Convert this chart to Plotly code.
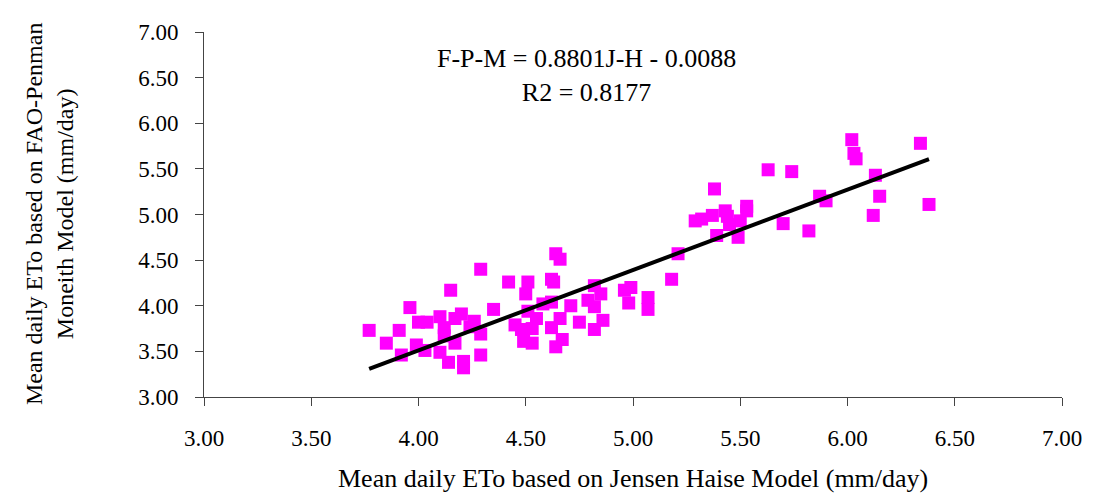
import numpy as np
import plotly.graph_objects as go

# Jensen-Haise ETo (x) vs FAO-Penman-Monteith ETo (y), mm/day
jh = [3.77, 3.85, 3.91, 3.92, 3.96, 3.99, 4.00, 4.04, 4.03, 4.10, 4.10, 4.15, 4.12, 4.12, 4.14,
      4.29, 4.42, 4.51, 4.50, 4.35, 4.20, 4.17, 4.26, 4.24, 4.29, 4.17, 4.29, 4.21, 4.21,
      4.45, 4.51, 4.55, 4.53, 4.48, 4.49, 4.53, 4.58,
      4.64, 4.66, 4.62, 4.63, 4.62, 4.71, 4.82, 4.85, 4.79, 4.82, 4.96, 4.99, 4.98,
      4.66, 4.62, 4.75, 4.82, 4.86, 4.67, 4.64, 5.07, 5.07, 5.18, 5.21, 5.39,
      6.02, 6.03, 6.04, 5.63, 5.74, 6.13, 5.38, 6.15, 5.87, 5.90, 5.53, 5.53, 6.12,
      5.43, 5.44, 5.37, 5.32, 5.29, 5.50, 5.45, 5.49, 5.70, 5.82, 6.34, 6.38]
fpm = [3.73, 3.59, 3.73, 3.46, 3.98, 3.57, 3.82, 3.82, 3.51, 3.88, 3.49, 4.17, 3.76, 3.67, 3.38,
       4.40, 4.26, 4.26, 4.13, 3.96, 3.91, 3.86, 3.83, 3.77, 3.69, 3.59, 3.46, 3.39, 3.32,
       3.79, 3.94, 3.86, 3.75, 3.74, 3.61, 3.59, 4.02,
       4.57, 4.51, 4.29, 4.26, 4.04, 4.00, 4.22, 4.13, 4.06, 3.99, 4.17, 4.20, 4.03,
       3.86, 3.76, 3.82, 3.74, 3.84, 3.63, 3.55, 4.09, 3.96, 4.29, 4.57, 4.77,
       5.82, 5.67, 5.61, 5.49, 5.47, 5.43, 5.28, 5.20, 5.20, 5.15, 5.09, 5.04, 4.99,
       5.04, 4.98, 4.99, 4.95, 4.93, 4.93, 4.89, 4.75, 4.90, 4.82, 5.78, 5.11]

slope = 0.8801
intercept = -0.0088
r2 = 0.8177

tick_vals = [3.0, 3.5, 4.0, 4.5, 5.0, 5.5, 6.0, 6.5, 7.0]
tick_text = ["3.00", "3.50", "4.00", "4.50", "5.00", "5.50", "6.00", "6.50", "7.00"]

FONT = "Liberation Serif"

fig = go.Figure()
fig.add_trace(go.Scatter(
    x=jh, y=fpm, mode="markers",
    marker=dict(symbol="square", size=13, color="#FF00FF", line=dict(width=0)),
    showlegend=False, hoverinfo="x+y"))

xl = np.array([min(jh), max(jh)])
fig.add_trace(go.Scatter(
    x=xl, y=slope * xl + intercept, mode="lines",
    line=dict(color="black", width=4), showlegend=False))

axis_common = dict(
    range=[3, 7], tickvals=tick_vals, ticktext=tick_text,
    showgrid=False, zeroline=False, showline=True, linecolor="#444", linewidth=1,
    ticks="outside", ticklen=8, tickcolor="#444",
    tickfont=dict(family=FONT, size=23, color="black"))

fig.update_xaxes(**axis_common, ticklabelstandoff=12)
fig.update_yaxes(**axis_common, ticklabelstandoff=12)

fig.add_annotation(
    xref="paper", yref="paper", x=0.5, y=-0.222, xanchor="center", yanchor="middle",
    text="Mean daily ETo based on Jensen Haise Model (mm/day)", showarrow=False,
    font=dict(family=FONT, size=26, color="black"))
fig.add_annotation(
    xref="paper", yref="paper", x=-0.18, y=0.5, xanchor="center", yanchor="middle",
    text="Mean daily ETo based on FAO-Penman<br>Moneith Model (mm/day)", showarrow=False,
    textangle=-90, font=dict(family=FONT, size=24, color="black"))
fig.add_annotation(
    xref="paper", yref="paper", x=0.446, y=0.881, xanchor="center", yanchor="middle",
    text=f"F-P-M = {slope}J-H - {abs(intercept)}<br>R2 = {r2}", showarrow=False,
    align="center", font=dict(family=FONT, size=26, color="black"))

fig.update_layout(
    width=1086, height=486,
    margin=dict(l=196, r=29, t=17, b=97),
    paper_bgcolor="white", plot_bgcolor="white")

fig.write_html("out.html")
